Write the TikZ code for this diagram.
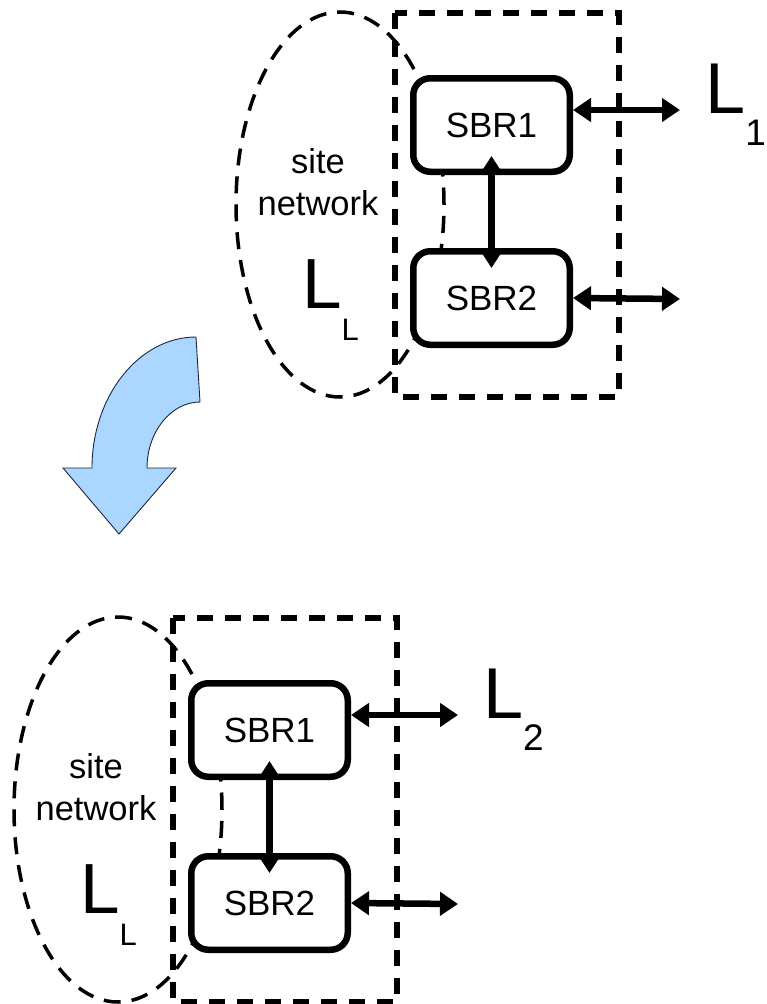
\documentclass[tikz,border=0pt]{standalone}
\usepackage{fontspec}
\setmainfont{Liberation Sans}
\usepackage{xcolor}
\usetikzlibrary{positioning,arrows.meta}

\definecolor{turnblue}{RGB}{170,214,255}
\definecolor{turnedge}{RGB}{30,40,60}

\tikzset{
  sbrbox/.style={draw, fill=white, line width=6.5pt, rounded corners=17pt,
    minimum width=156.5pt, minimum height=93.5pt, inner sep=0pt,
    font=\fontsize{35}{42}\selectfont},
  sitedash/.style={line width=3.5pt, dash pattern=on 17pt off 11pt},
  routerdash/.style={line width=5.5pt, dash pattern=on 16pt off 12pt},
  biarrow/.style={line width=6.5pt,
    {Triangle[length=18pt,width=23pt]}-{Triangle[length=18pt,width=23pt]}},
  innerarrow/.style={line width=7pt,
    {Triangle[length=14pt,width=17pt]}-{Triangle[length=14pt,width=17pt]}},
}

\begin{document}
\begin{tikzpicture}[x=1pt,y=-1pt]
\useasboundingbox (0,0) rectangle (767,1004);

% turn arrow between the two pictures
\draw[fill=turnblue, draw=turnedge, line width=0.9pt]
  (196,337) -- (200,402) .. controls (171,402) and (147,432) .. (147,468)
  -- (176,468) -- (119,534) -- (63,468) -- (92,468)
  .. controls (92,396) and (139,337) .. (196,337) -- cycle;

\foreach \dx/\dy/\n/\lab in {0/0/a/1, -222/605/b/2} {
  \begin{scope}[shift={(\dx,\dy)}]
    % site network
    \draw[sitedash] (340,204.5) ellipse [x radius=104pt, y radius=192.5pt];
    \node[align=center, inner sep=0pt, font=\fontsize{34.5}{42}\selectfont]
      (site-\n) at (318,182) {site\\network};
    \node[anchor=base west, inner sep=0pt] (ll-\n) at (302,308)
      {\fontsize{71}{71}\selectfont L\raisebox{-32pt}{\fontsize{31}{31}\selectfont L}};
    % routers
    \node[sbrbox] (sbr1-\n) at (491.5,125) {SBR1};
    \node[sbrbox, below=73pt of sbr1-\n] (sbr2-\n) {SBR2};
    \draw[routerdash] (395,13) rectangle (619,397);
    % links
    \coordinate (out1-\n) at (680,110);
    \coordinate (out2-\n) at (680,299);
    \draw[biarrow] (sbr1-\n.east |- out1-\n) -- (out1-\n);
    \draw[biarrow] (sbr2-\n.east) -- (out2-\n);
    \draw[innerarrow] ([yshift=19pt]sbr1-\n.south) -- ([yshift=-20pt]sbr2-\n.north);
    \node[anchor=base west, inner sep=0pt] (lan-\n) at (705,113)
      {\fontsize{72}{72}\selectfont L\raisebox{-32pt}{\fontsize{37}{37}\selectfont \lab}};
  \end{scope}
}
\end{tikzpicture}
\end{document}
